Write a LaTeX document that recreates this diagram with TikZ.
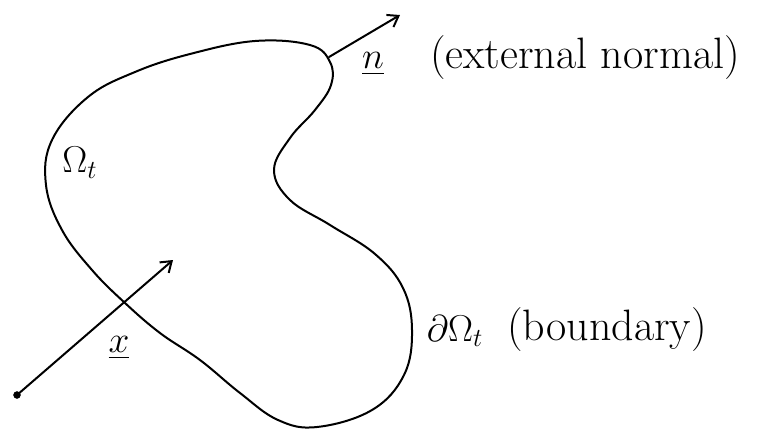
\documentclass[tikz,border=0pt]{standalone}
\usepackage{amsmath}
\usetikzlibrary{arrows.meta}
\begin{document}
\begin{tikzpicture}[x=1pt,y=-1pt,
  stroke/.style={line width=2pt,line cap=round,line join=round},
  vec/.style={stroke,-{Straight Barb[length=10pt,width=14pt,line width=2pt]}},
  lbl/.style={inner sep=0pt,scale=2.12,font=\fontsize{20.74}{25}\selectfont},
  mlbl/.style={lbl,scale=0.85},
  pt/.style={circle,fill=black,draw=black,inner sep=0pt,minimum size=7pt}]
\useasboundingbox[fill=white] (0,0) rectangle (763,440);
% region boundary
\draw[stroke] plot[smooth cycle,tension=0.65] coordinates {
 (255,41) (310,45) (330,62) (331,85) (315,110) (290,138) (274,170)
 (290,200) (330,225) (375,254) (403,288) (412,330) (404,375)
 (372,410) (317,427) (278,420) (240,393) (200,360) (160,333)
 (125,303) (92,270) (62,230) (46,185) (52,140) (88,97) (135,72) (190,54)};
% normal
\coordinate (nbase) at (329,57);
\coordinate (ntip) at (400,15);
\draw[vec] (nbase) -- (ntip);
% position vector
\node[pt] (O) at (17,395) {};
\coordinate (xtip) at (173,260);
\draw[vec] (O.center) -- (xtip);
% labels
\node[mlbl] (nlab) at (373,64) {$\underline{n}$};
\node[lbl] (extn) at (585,58) {(external normal)};
\node[mlbl] (omega) at (80,163) {$\Omega_t$};
\node[mlbl] (xlab) at (119,348) {$\underline{x}$};
\node[mlbl] (domega) at (455,331) {$\partial\Omega_t$};
\node[lbl] (bnd) at (607,330) {(boundary)};
\end{tikzpicture}
\end{document}
